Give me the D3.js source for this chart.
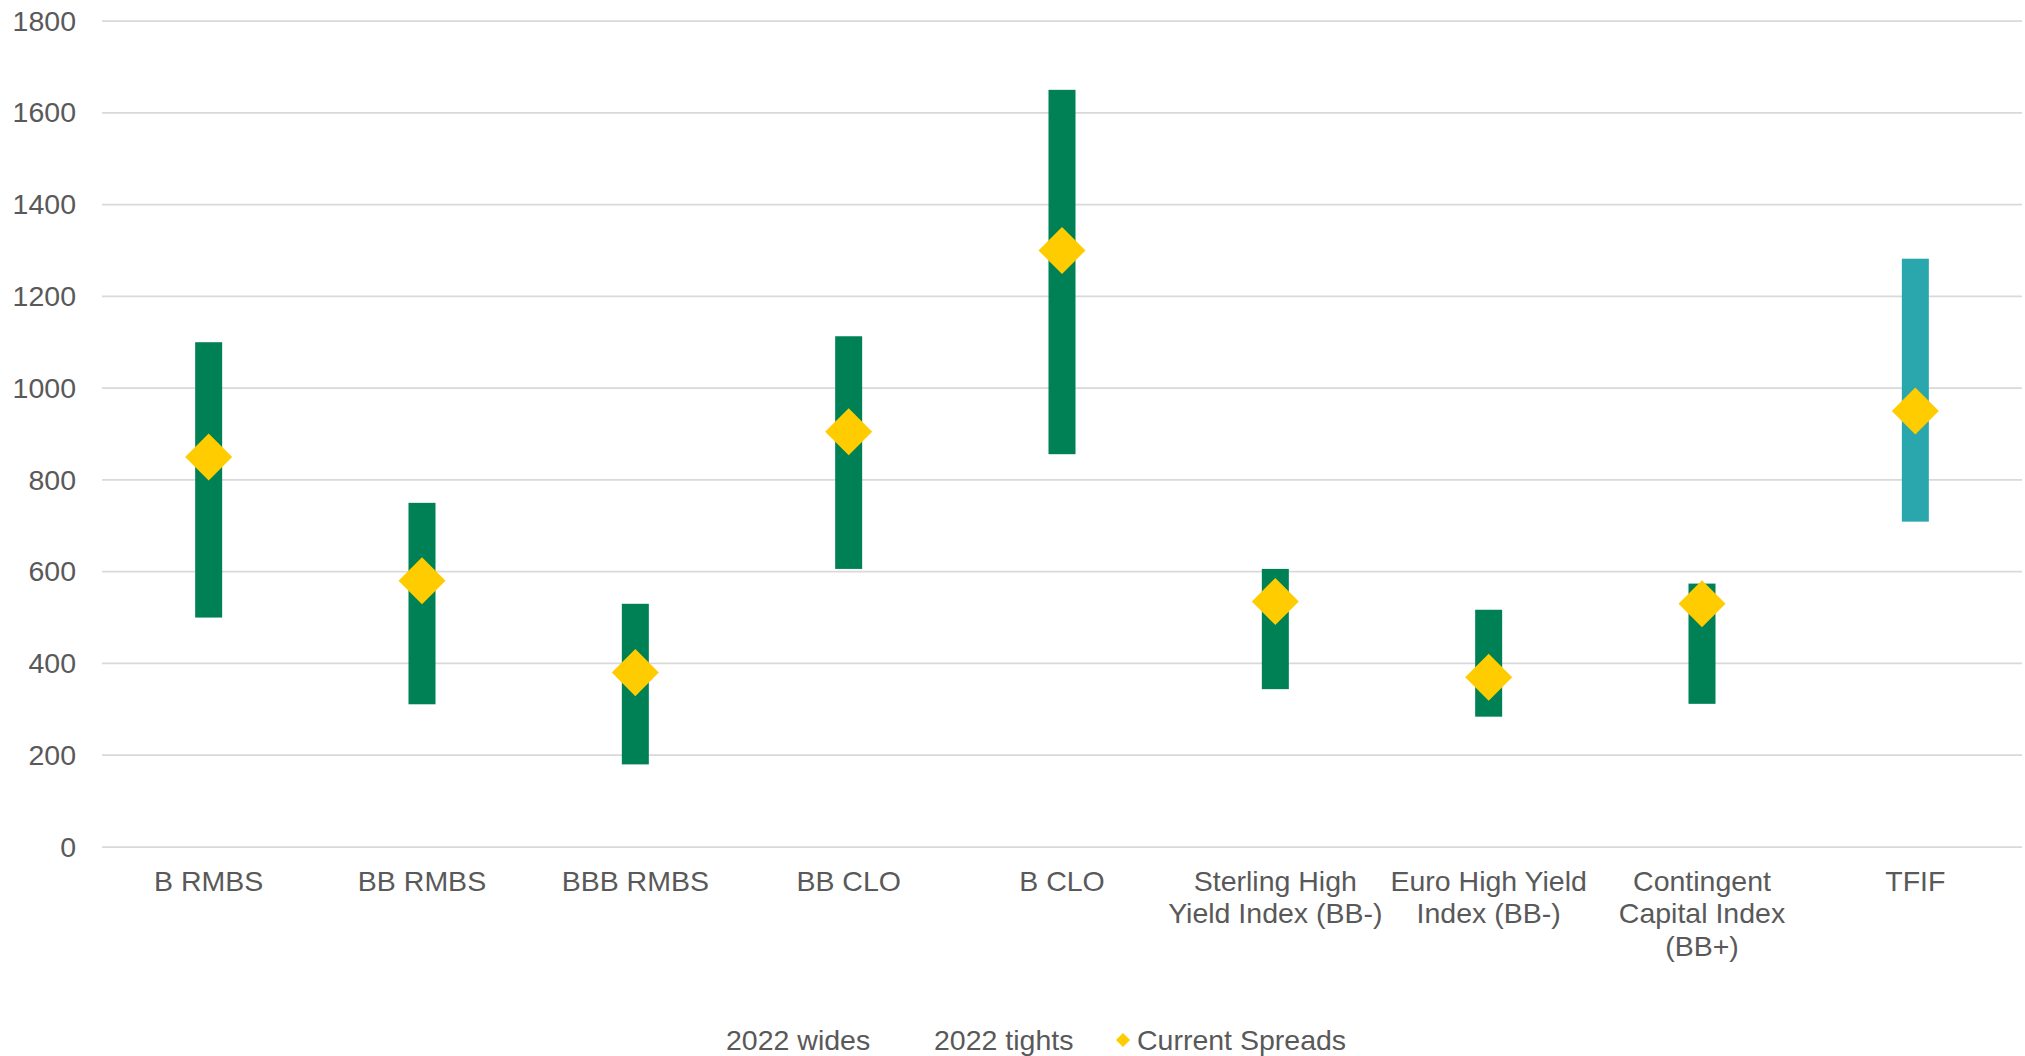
<!DOCTYPE html>
<html lang="en">
<head>
    <meta charset="UTF-8">
    <title>2022 Spread Ranges</title>
    <script src="https://cdnjs.cloudflare.com/ajax/libs/d3/7.8.5/d3.min.js"></script>
    <style>
        body { margin: 0; background: #fff; }
        svg { display: block; }
        text { font-family: "Liberation Sans", Arial, sans-serif; fill: #595959; }
    </style>
</head>
<body>
<svg id="chart" width="2025" height="1056"></svg>

<script>
    // categories (labels wrapped onto lines as in the original)
    const categories = [
        "B RMBS", "BB RMBS", "BBB RMBS", "BB CLO", "B CLO",
        "Sterling High Yield Index (BB-)", "Euro High Yield Index (BB-)",
        "Contingent Capital Index (BB+)", "TFIF"
    ];
    const labelLines = [
        ["B RMBS"], ["BB RMBS"], ["BBB RMBS"], ["BB CLO"], ["B CLO"],
        ["Sterling High", "Yield Index (BB-)"], ["Euro High Yield", "Index (BB-)"],
        ["Contingent", "Capital Index", "(BB+)"], ["TFIF"]
    ];
    const tights  = [500, 311, 180, 606, 856, 344, 284, 312, 709];
    const wides   = [1100, 750, 530, 1113, 1650, 606, 517, 574, 1282];
    const current = [850, 580, 380, 905, 1300, 535, 370, 530, 950];
    const yTicks  = [0, 200, 400, 600, 800, 1000, 1200, 1400, 1600, 1800];
    const legendItems = ["2022 wides", "2022 tights", "Current Spreads"];

    const svg = d3.select("#chart");
    const fontSize = 28.5;

    const x = d3.scaleBand()
        .domain(categories)
        .range([102, 2022])
        .padding(0);

    const y = d3.scaleLinear()
        .domain([0, 1800])
        .range([847, 21]);

    // gridlines
    svg.append("g")
        .selectAll("line")
        .data(yTicks)
        .enter()
        .append("line")
        .attr("x1", 102)
        .attr("x2", 2022)
        .attr("y1", d => y(d))
        .attr("y2", d => y(d))
        .attr("stroke", "#d9d9d9")
        .attr("stroke-width", 1.75);

    // y axis labels
    const yAxis = svg.append("g")
        .attr("transform", "translate(76,0)")
        .call(d3.axisLeft(y).tickValues(yTicks).tickFormat(d3.format("d")).tickSize(0).tickPadding(0));
    yAxis.select(".domain").remove();
    yAxis.selectAll("text")
        .attr("font-size", fontSize)
        .attr("font-family", "Liberation Sans, Arial, sans-serif")
        .attr("fill", "#595959");

    // range bars (tights to wides)
    const barWidth = 27;
    const rows = categories.map((c, i) => ({ cat: c, lo: tights[i], hi: wides[i], cur: current[i] }));

    svg.append("g")
        .selectAll("rect")
        .data(rows)
        .enter()
        .append("rect")
        .attr("x", d => x(d.cat) + x.bandwidth() / 2 - barWidth / 2)
        .attr("y", d => y(d.hi))
        .attr("width", barWidth)
        .attr("height", d => y(d.lo) - y(d.hi))
        .attr("fill", d => d.cat === "TFIF" ? "#2aa7ad" : "#008055");

    // current spreads diamonds
    const diamond = d3.symbol(d3.symbolSquare, 1105);
    svg.append("g")
        .selectAll("path")
        .data(rows)
        .enter()
        .append("path")
        .attr("d", diamond)
        .attr("transform", d => `translate(${x(d.cat) + x.bandwidth() / 2},${y(d.cur)}) rotate(45)`)
        .attr("fill", "#ffcc00");

    // category labels
    const catLabels = svg.append("g")
        .selectAll("text")
        .data(categories)
        .enter()
        .append("text")
        .attr("x", d => x(d) + x.bandwidth() / 2)
        .attr("y", 891)
        .attr("text-anchor", "middle")
        .attr("font-size", fontSize);
    catLabels.each(function (d, i) {
        d3.select(this).selectAll("tspan")
            .data(labelLines[i])
            .enter()
            .append("tspan")
            .attr("x", x(d) + x.bandwidth() / 2)
            .attr("dy", (t, j) => j === 0 ? 0 : 32.3)
            .text(t => t);
    });

    // legend
    const legendX = [726, 934, 1137];
    const legend = svg.append("g");
    legend.selectAll("text")
        .data(legendItems)
        .enter()
        .append("text")
        .attr("x", (d, i) => legendX[i])
        .attr("y", 1050)
        .attr("font-size", fontSize)
        .text(d => d);
    legend.append("path")
        .attr("d", d3.symbol(d3.symbolSquare, 100))
        .attr("transform", "translate(1123,1040) rotate(45)")
        .attr("fill", "#ffcc00");
</script>
</body>
</html>
